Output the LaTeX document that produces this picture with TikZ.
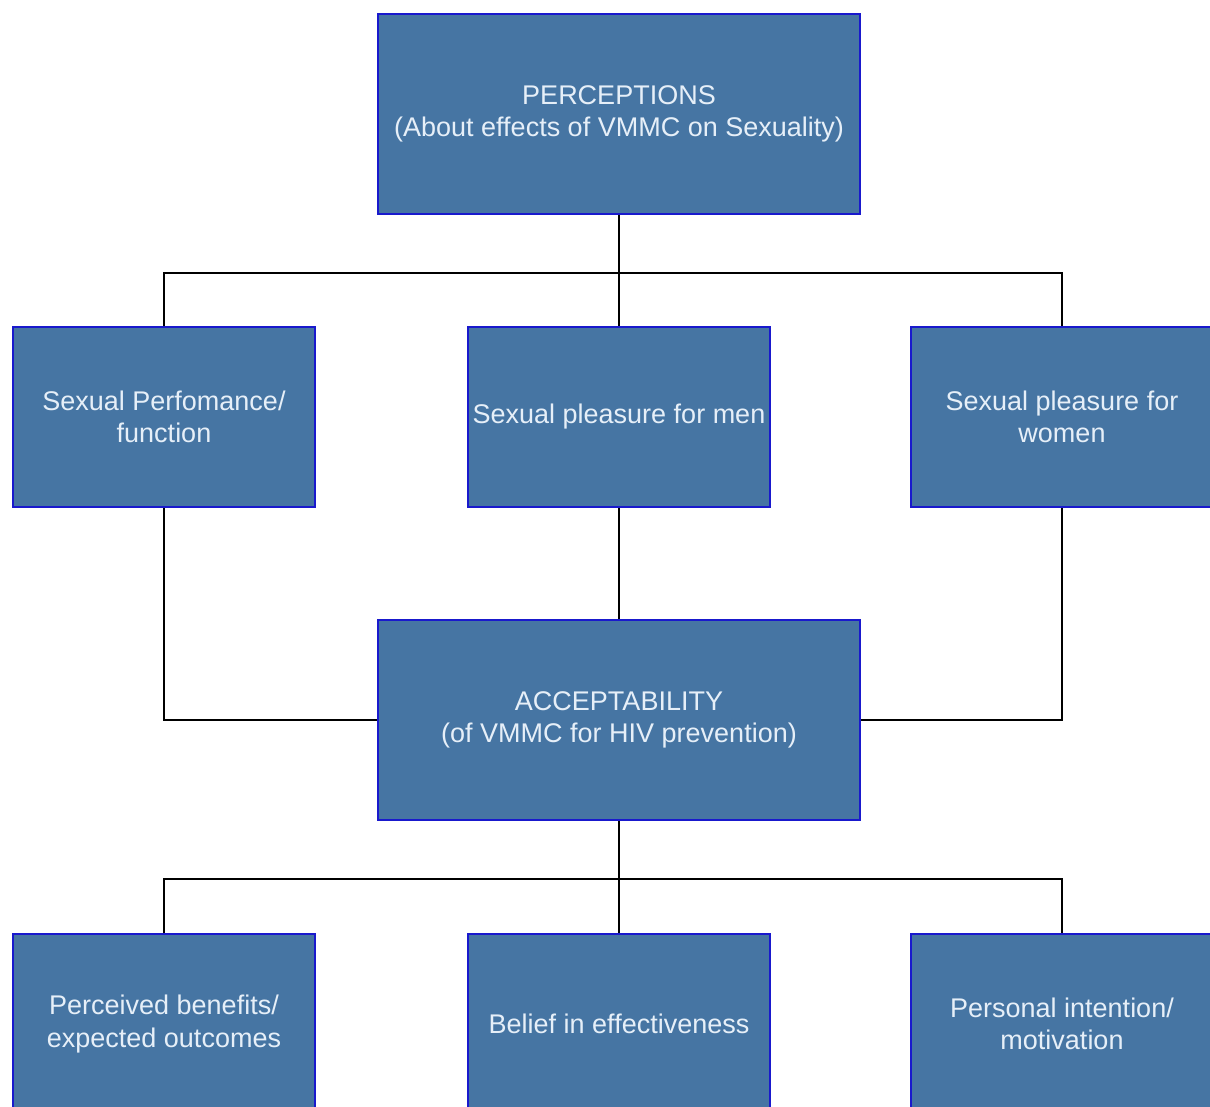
\documentclass[tikz,border=0pt]{standalone}
\usepackage{fontspec}
\setmainfont{Liberation Sans}
\usetikzlibrary{positioning}
\definecolor{boxfill}{RGB}{70,117,163}
\definecolor{boxline}{RGB}{25,25,205}
\definecolor{boxtext}{RGB}{230,239,248}

\begin{document}
\begin{tikzpicture}[x=1pt, y=-1pt,
  box/.style={draw=boxline, line width=2pt, fill=boxfill, text=boxtext, align=center, inner sep=0pt, minimum width=302pt, minimum height=180pt, font=\fontsize{27}{32.5}\selectfont},
  bigbox/.style={box, minimum width=482pt, minimum height=200pt},
  link/.style={draw=black, line width=2pt}]
  \useasboundingbox (0,0) rectangle (1210,1106);
  \clip (0,0) rectangle (1210,1106);

  % top
  \node[bigbox] (perc) at (619,114) {PERCEPTIONS\\(About effects of VMMC on Sexuality)};

  % middle row
  \node[box, below=111pt of perc] (men) {Sexual pleasure for men};
  \node[box, left=151pt of men] (perf) {Sexual Perfomance/\\function};
  \node[box, right=139pt of men] (women) {Sexual pleasure for\\women};

  \node[bigbox, below=111pt of men] (accept) {ACCEPTABILITY\\(of VMMC for HIV prevention)};

  % bottom row
  \node[box, below=112pt of accept] (belief) {Belief in effectiveness};
  \node[box, left=151pt of belief] (benefit) {Perceived benefits/\\expected outcomes};
  \node[box, right=139pt of belief] (motive) {Personal intention/\\motivation};

  % connectors
  \draw[link] (perc.south) -- (men.north);
  \draw[link] (perf.north) -- ++(0,-53) -| (women.north);
  \draw[link] (perf.south) |- (accept.west);
  \draw[link] (men.south) -- (accept.north);
  \draw[link] (women.south) |- (accept.east);
  \draw[link] (accept.south) -- (belief.north);
  \draw[link] (benefit.north) -- ++(0,-54) -| (motive.north);
\end{tikzpicture}
\end{document}
